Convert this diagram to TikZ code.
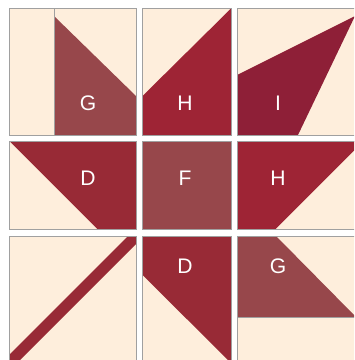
\documentclass[tikz,border=0pt]{standalone}
\usepackage{fontspec}
\setmainfont{Liberation Sans}
\definecolor{qcream}{RGB}{254,238,220}
\definecolor{qrose}{RGB}{151,71,75}
\definecolor{qred}{RGB}{158,36,53}
\definecolor{qdeep}{RGB}{152,42,54}
\definecolor{qwine}{RGB}{142,31,55}
\definecolor{qgray}{RGB}{160,160,160}
\usetikzlibrary{positioning}

\begin{document}
\begin{tikzpicture}[
  x=0.3mm,y=-0.3mm,
  every node/.style={font=\fontsize{18}{18}\selectfont,text=white},
  seam/.style={draw=qgray,line width=0.3mm},
]
  \useasboundingbox (0,0) rectangle (354,360);
  \fill[white] (0,0) rectangle (354,360);
  \clip (0,0) rectangle (354,360);

  % Row 1
  \fill[qcream] (9.5,8.5) rectangle (136,135);
  \fill[qrose] (54,16) -- (136,96) -- (136,135) -- (54,135) -- cycle;
  \draw[seam] (54,8.5) -- (54,135);
  \draw[seam] (9.5,8.5) rectangle (136,135);
  \node (gtop) at (88,103) {G};

  \fill[qcream] (142.5,8.5) rectangle (231,135);
  \fill[qred] (142.5,96) -- (231,8.5) -- (231,135) -- (142.5,135) -- cycle;
  \draw[seam] (142.5,8.5) rectangle (231,135);
  \node (htop) at (185,103) {H};

  \fill[qcream] (237,8.5) rectangle (363.5,135);
  \fill[qwine] (237,75) -- (355,16) -- (298,135) -- (237,135) -- cycle;
  \draw[seam] (237,8.5) rectangle (363.5,135);
  \node (itop) at (278,103) {I};

  % Row 2
  \fill[qcream] (9.5,141) rectangle (136,229);
  \fill[qdeep] (9.5,141) -- (136,141) -- (136,229) -- (97.5,229) -- cycle;
  \draw[seam] (9.5,141) rectangle (136,229);
  \node (dmid) at (88,178) {D};

  \fill[qrose] (142.5,141) rectangle (231,229);
  \draw[seam] (142.5,141) rectangle (231,229);
  \node (fmid) at (185,178) {F};

  \fill[qcream] (237,141) rectangle (363.5,229);
  \fill[qred] (237,141) -- (363.5,141) -- (275.5,229) -- (237,229) -- cycle;
  \draw[seam] (237,141) rectangle (363.5,229);
  \node (hmid) at (278,178) {H};

  % Row 3
  \fill[qcream] (9.5,236) rectangle (136,362.5);
  \fill[qdeep] (128,236) -- (136,236) -- (136,244) -- (17.5,362.5)
    -- (9.5,362.5) -- (9.5,354.5) -- cycle;
  \draw[seam] (9.5,236) rectangle (136,362.5);

  \fill[qcream] (142.5,236) rectangle (231,362.5);
  \fill[qdeep] (142.5,236) -- (231,236) -- (231,363) -- (142.5,275) -- cycle;
  \draw[seam] (142.5,236) rectangle (231,362.5);
  \node (dbot) at (185,266) {D};

  \fill[qcream] (237,236) rectangle (363.5,362.5);
  \fill[qrose] (237,236) -- (276,236) -- (356,317) -- (237,317) -- cycle;
  \draw[seam] (237,317) -- (363.5,317);
  \draw[seam] (237,236) rectangle (363.5,362.5);
  \node (gbot) at (278,266) {G};
\end{tikzpicture}
\end{document}
